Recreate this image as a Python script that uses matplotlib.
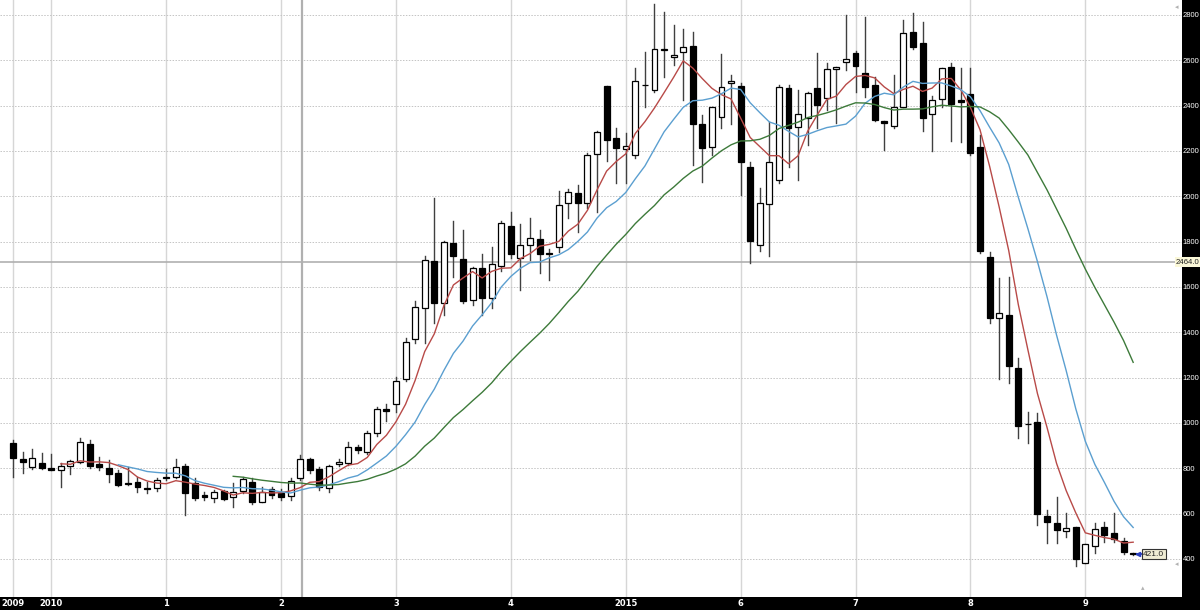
import matplotlib
matplotlib.use("Agg")
import matplotlib.pyplot as plt
import matplotlib.transforms as mtransforms
import pandas as pd

# monthly candles, Sep 2009 .. Jun 2019
opens = [910, 840, 807, 822, 800, 793, 810, 829, 906, 818, 803, 778,
         737, 741, 715, 712, 763, 763, 810, 734, 682, 668, 701, 675,
         701, 741, 653, 708, 692, 678, 756, 840, 796, 712, 819, 822,
         895, 873, 955, 1060, 1084, 1193, 1369, 1509, 1716, 1531, 1795, 1722,
         1543, 1683, 1550, 1693, 1869, 1727, 1785, 1812, 1746, 1778, 1969, 2013,
         1969, 2187, 2487, 2256, 2209, 2182, 2490, 2469, 2647, 2614, 2636, 2663,
         2319, 2219, 2351, 2499, 2487, 2131, 1785, 1966, 2072, 2477, 2307, 2344,
         2477, 2433, 2561, 2593, 2631, 2546, 2491, 2334, 2310, 2396, 2724, 2675,
         2362, 2428, 2569, 2425, 2450, 2219, 1731, 1462, 1477, 1241, 996, 1006,
         590, 557, 524, 543, 384, 457, 543, 513, 481, 425]
highs = [925, 873, 884, 866, 863, 825, 837, 935, 925, 849, 837, 793,
         807, 763, 741, 756, 797, 840, 820, 756, 697, 704, 704, 734,
         763, 756, 719, 719, 708, 756, 858, 844, 805, 815, 840, 918,
         903, 963, 1070, 1084, 1204, 1374, 1540, 1737, 1993, 1804, 1891, 1852,
         1690, 1746, 1777, 1890, 1932, 1878, 1903, 1852, 1766, 2025, 2031, 2050,
         2191, 2290, 2487, 2300, 2278, 2565, 2638, 2850, 2815, 2756, 2737, 2726,
         2359, 2393, 2628, 2535, 2499, 2150, 2036, 2329, 2490, 2491, 2469, 2462,
         2631, 2587, 2572, 2800, 2643, 2790, 2528, 2334, 2535, 2778, 2807, 2771,
         2443, 2565, 2590, 2565, 2565, 2271, 1756, 1638, 1643, 1286, 1050, 1043,
         616, 675, 604, 543, 465, 557, 565, 602, 491, 425]
lows = [762, 778, 797, 796, 793, 719, 775, 822, 800, 793, 741, 722,
        726, 697, 692, 700, 749, 756, 594, 659, 660, 653, 660, 628,
        692, 642, 650, 668, 660, 660, 749, 778, 704, 697, 810, 815,
        869, 862, 943, 1010, 1050, 1185, 1354, 1354, 1441, 1477, 1646, 1530,
        1521, 1477, 1507, 1670, 1727, 1587, 1719, 1660, 1631, 1756, 1903, 1844,
        1950, 1932, 2157, 2058, 2060, 2170, 2396, 2460, 2528, 2579, 2425, 2138,
        2065, 2182, 2300, 2319, 2006, 1705, 1760, 1737, 2060, 2131, 2072, 2227,
        2300, 2381, 2322, 2557, 2462, 2440, 2330, 2204, 2300, 2396, 2650, 2290,
        2201, 2396, 2244, 2241, 2180, 1750, 1442, 1193, 1175, 933, 913, 550,
        472, 472, 498, 369, 380, 425, 476, 476, 422, 416]
closes = [844, 827, 844, 800, 793, 810, 832, 918, 812, 805, 774, 726,
          731, 719, 709, 749, 756, 807, 692, 668, 672, 697, 665, 697,
          752, 653, 697, 682, 672, 745, 840, 793, 716, 810, 829, 895,
          881, 955, 1060, 1054, 1187, 1356, 1513, 1719, 1528, 1800, 1737, 1540,
          1683, 1550, 1702, 1884, 1746, 1785, 1815, 1746, 1750, 1962, 2020, 1969,
          2182, 2285, 2249, 2215, 2223, 2510, 2492, 2649, 2652, 2624, 2658, 2319,
          2212, 2393, 2484, 2510, 2153, 1804, 1972, 2153, 2481, 2300, 2362, 2455,
          2403, 2561, 2572, 2605, 2575, 2484, 2337, 2322, 2393, 2719, 2658, 2347,
          2425, 2565, 2406, 2415, 2193, 1759, 1462, 1484, 1252, 987, 996, 599,
          565, 528, 535, 399, 465, 532, 506, 487, 432, 421]

ma_periods = [6, 12, 24]
ma_colors = ["#b84a48", "#5b9fd0", "#3d7a3a"]

year_labels = ["2009", "2010", "1", "2", "3", "4", "2015", "6", "7", "8", "9"]
price_ticks = list(range(400, 2801, 200))

cursor_price = 1710
cursor_label = "2464.0"

SMALL = ["Liberation Sans", "DejaVu Sans"]

months = pd.date_range("2009-09-01", periods=len(closes), freq="MS")
df = pd.DataFrame({"open": opens, "high": highs, "low": lows, "close": closes},
                  index=months)
xs = list(range(len(df)))

fig = plt.figure(figsize=(12, 6.1), dpi=100, facecolor="black")
ax = fig.add_axes([0, 13 / 610, 1182 / 1200, 597 / 610])
ax.set_facecolor("white")

# grid
tick_pos = [0] + [i for i, m in enumerate(months) if m.month == 1]
for tp in tick_pos:
    ax.axvline(tp, color="#d6d6d6", lw=1, zorder=0)
for p in price_ticks:
    ax.axhline(p, color="#c4c4c4", lw=0.7, ls=(0, (1.5, 1.5)), zorder=0)

# crosshair
ax.axvline(30.2, color="#b0b0b0", lw=1.6, zorder=1)
ax.axhline(cursor_price, color="#b0b0b0", lw=1.2, zorder=1)

# candles
w = 0.62
for x, (o, h, l, c) in zip(xs, df[["open", "high", "low", "close"]].values):
    ax.plot([x, x], [l, h], color="#404040", lw=1.0, zorder=2)
    up = c >= o
    ax.bar(x, c - o if up else o - c, bottom=min(o, c), width=w,
           color="white" if up else "black", edgecolor="black",
           linewidth=0.9, zorder=3)

# moving averages
for per, col in zip(ma_periods, ma_colors):
    ax.plot(xs, df["close"].rolling(per).mean(), color=col, lw=1.0, zorder=4)

ax.set_xlim(-1.36, 122.1)
ax.set_ylim(232, 2866)

for s in ax.spines.values():
    s.set_visible(False)

ax.yaxis.tick_right()
ax.set_yticks(price_ticks)
ax.set_yticklabels([str(p) for p in price_ticks])
ax.tick_params(axis="y", length=0, pad=0.4, labelcolor="white", labelsize=5.5)
for t in ax.get_yticklabels():
    t.set_fontfamily(SMALL)
ax.set_xticks(tick_pos)
ax.set_xticklabels(year_labels)
ax.tick_params(axis="x", length=0, pad=1.5, labelcolor="white", labelsize=6)
for t in ax.get_xticklabels():
    t.set_fontweight("bold")

# price tags
trans = mtransforms.blended_transform_factory(fig.transFigure, ax.transData)
ax.text(0.9995, cursor_price, cursor_label, transform=trans, ha="right",
        va="center", fontsize=5.6, color="#222222", clip_on=False, zorder=6,
        fontfamily=SMALL,
        bbox=dict(facecolor="#fbf8d8", edgecolor="none", pad=0.8))
last = closes[-1]
ax.plot([len(closes) - 0.55, len(closes) - 0.1], [last, last],
        color="#2a3fbf", lw=1.3, zorder=5)
ax.plot(len(closes) - 0.5, last, marker="<", ms=3, color="#2a3fbf", zorder=5)
ax.text(len(closes) + 0.05, last, f"{last:.1f}", ha="left", va="center",
        fontsize=6, color="#222222", zorder=6, fontfamily=SMALL,
        bbox=dict(facecolor="#efecd4", edgecolor="#333333", lw=0.8, pad=1.0))

# small scroll markers of the chart window
ax.text(0.997, 0.993, "\u25c2", transform=ax.transAxes, ha="right", va="top",
        fontsize=5, color="#b0b0b0")
ax.text(0.997, 0.055, "\u25c2", transform=ax.transAxes, ha="right", va="center",
        fontsize=5, color="#b0b0b0")
ax.text(0.967, 0.01, "\u25b4", transform=ax.transAxes, ha="center", va="bottom",
        fontsize=5, color="#b0b0b0")

fig.savefig("out.png", dpi=100, facecolor="black")
